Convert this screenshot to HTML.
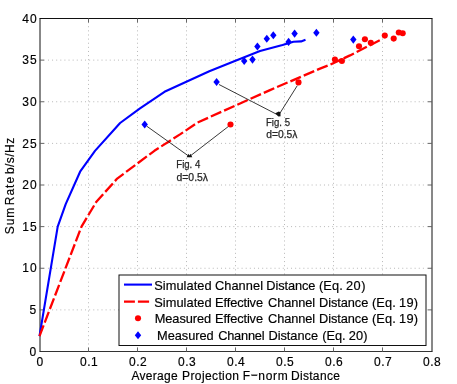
<!DOCTYPE html>
<html><head><meta charset="utf-8"><title>Chart</title>
<style>html,body{margin:0;padding:0;background:#fff;}body{width:457px;height:384px;overflow:hidden;position:relative;font-family:"Liberation Sans",sans-serif;}</style></head>
<body>
<svg width="457" height="384" viewBox="0 0 457 384" style="position:absolute;left:0;top:0">
<rect x="0" y="0" width="457" height="384" fill="#fff"/>
<g stroke="#b8b8b8" stroke-width="1" stroke-dasharray="1 3.12"><line x1="88.50" y1="18.0" x2="88.50" y2="351.5"/><line x1="137.50" y1="18.0" x2="137.50" y2="351.5"/><line x1="186.50" y1="18.0" x2="186.50" y2="351.5"/><line x1="235.50" y1="18.0" x2="235.50" y2="351.5"/><line x1="284.50" y1="18.0" x2="284.50" y2="351.5"/><line x1="333.50" y1="18.0" x2="333.50" y2="351.5"/><line x1="382.50" y1="18.0" x2="382.50" y2="351.5"/><line x1="39.7" y1="309.88" x2="432.0" y2="309.88"/><line x1="39.7" y1="268.25" x2="432.0" y2="268.25"/><line x1="39.7" y1="226.62" x2="432.0" y2="226.62"/><line x1="39.7" y1="185.00" x2="432.0" y2="185.00"/><line x1="39.7" y1="143.38" x2="432.0" y2="143.38"/><line x1="39.7" y1="101.75" x2="432.0" y2="101.75"/><line x1="39.7" y1="60.12" x2="432.0" y2="60.12"/></g>
<g stroke="#000" stroke-width="1" fill="none">
<line x1="39.5" y1="18.5" x2="432.5" y2="18.5" stroke="#111"/>
<line x1="39.5" y1="351.5" x2="432.5" y2="351.5" stroke="#333"/>
<line x1="40.0" y1="18.5" x2="40.0" y2="351.5" stroke="#111"/>
<line x1="432.0" y1="18.5" x2="432.0" y2="351.5" stroke="#111"/>
<line x1="88.50" y1="351.5" x2="88.50" y2="347.5" stroke="#666"/>
<line x1="88.50" y1="18.5" x2="88.50" y2="22.5" stroke="#666"/>
<line x1="137.50" y1="351.5" x2="137.50" y2="347.5" stroke="#666"/>
<line x1="137.50" y1="18.5" x2="137.50" y2="22.5" stroke="#666"/>
<line x1="186.50" y1="351.5" x2="186.50" y2="347.5" stroke="#666"/>
<line x1="186.50" y1="18.5" x2="186.50" y2="22.5" stroke="#666"/>
<line x1="235.50" y1="351.5" x2="235.50" y2="347.5" stroke="#666"/>
<line x1="235.50" y1="18.5" x2="235.50" y2="22.5" stroke="#666"/>
<line x1="284.50" y1="351.5" x2="284.50" y2="347.5" stroke="#666"/>
<line x1="284.50" y1="18.5" x2="284.50" y2="22.5" stroke="#666"/>
<line x1="333.50" y1="351.5" x2="333.50" y2="347.5" stroke="#666"/>
<line x1="333.50" y1="18.5" x2="333.50" y2="22.5" stroke="#666"/>
<line x1="382.50" y1="351.5" x2="382.50" y2="347.5" stroke="#666"/>
<line x1="382.50" y1="18.5" x2="382.50" y2="22.5" stroke="#666"/>
<line x1="40.0" y1="309.88" x2="44.0" y2="309.88" stroke="#666"/>
<line x1="432.0" y1="309.88" x2="428.0" y2="309.88" stroke="#666"/>
<line x1="40.0" y1="268.25" x2="44.0" y2="268.25" stroke="#666"/>
<line x1="432.0" y1="268.25" x2="428.0" y2="268.25" stroke="#666"/>
<line x1="40.0" y1="226.62" x2="44.0" y2="226.62" stroke="#666"/>
<line x1="432.0" y1="226.62" x2="428.0" y2="226.62" stroke="#666"/>
<line x1="40.0" y1="185.00" x2="44.0" y2="185.00" stroke="#666"/>
<line x1="432.0" y1="185.00" x2="428.0" y2="185.00" stroke="#666"/>
<line x1="40.0" y1="143.38" x2="44.0" y2="143.38" stroke="#666"/>
<line x1="432.0" y1="143.38" x2="428.0" y2="143.38" stroke="#666"/>
<line x1="40.0" y1="101.75" x2="44.0" y2="101.75" stroke="#666"/>
<line x1="432.0" y1="101.75" x2="428.0" y2="101.75" stroke="#666"/>
<line x1="40.0" y1="60.12" x2="44.0" y2="60.12" stroke="#666"/>
<line x1="432.0" y1="60.12" x2="428.0" y2="60.12" stroke="#666"/>
</g>
<polyline points="39.5,336.1 57.7,226.6 65.7,204.1 80.1,171.7 95.0,150.9 120.1,123.0 140.0,108.4 164.5,91.8 209.3,71.2 236.1,60.6 260.0,51.1 282.5,45.1 293.5,41.8 301.1,41.4 305.5,39.7" fill="none" stroke="#0000ff" stroke-width="2.1" stroke-linejoin="round"/>
<polyline points="39.5,336.1 81.5,226.6 96.4,201.7 117.2,178.6 154.4,150.8 180.0,134.4 197.4,122.6 270.0,90.1 320.0,68.6 330.0,64.7 350.0,55.4 382.2,39.0" fill="none" stroke="#ff0000" stroke-width="2.3" stroke-dasharray="11.4 3.1" stroke-linejoin="round"/>
<g stroke="#222" stroke-width="0.9" fill="none">
<line x1="146.5" y1="126" x2="189.4" y2="156.6"/><line x1="229" y1="126" x2="189.4" y2="156.6"/>
<line x1="219" y1="84.5" x2="278.6" y2="115.3"/><line x1="297.3" y1="85.6" x2="278.6" y2="115.3"/>
</g>
<path d="M186.6 157.2 L188.6 153.8 L189.4 155.4 L190.4 153.8 L192.3 157.2z" fill="#111"/>
<path d="M275.2 113.2 L278.8 111.6 L280.4 112.2 L280.6 116.2 L278.4 116.4z" fill="#111"/>
<path d="M141.5 124.5 l3.2 -4.05 l3.2 4.05 l-3.2 4.05z" fill="#0000ff"/>
<path d="M213.4 82.0 l3.2 -4.05 l3.2 4.05 l-3.2 4.05z" fill="#0000ff"/>
<path d="M241.0 61.0 l3.2 -4.05 l3.2 4.05 l-3.2 4.05z" fill="#0000ff"/>
<path d="M249.3 59.6 l3.2 -4.05 l3.2 4.05 l-3.2 4.05z" fill="#0000ff"/>
<path d="M254.2 46.5 l3.2 -4.05 l3.2 4.05 l-3.2 4.05z" fill="#0000ff"/>
<path d="M263.6 38.8 l3.2 -4.05 l3.2 4.05 l-3.2 4.05z" fill="#0000ff"/>
<path d="M270.1 35.3 l3.2 -4.05 l3.2 4.05 l-3.2 4.05z" fill="#0000ff"/>
<path d="M285.4 41.9 l3.2 -4.05 l3.2 4.05 l-3.2 4.05z" fill="#0000ff"/>
<path d="M291.4 33.6 l3.2 -4.05 l3.2 4.05 l-3.2 4.05z" fill="#0000ff"/>
<path d="M313.2 32.7 l3.2 -4.05 l3.2 4.05 l-3.2 4.05z" fill="#0000ff"/>
<path d="M350.1 39.6 l3.2 -4.05 l3.2 4.05 l-3.2 4.05z" fill="#0000ff"/>
<circle cx="230.5" cy="124.5" r="3.05" fill="#ff0000"/>
<circle cx="298.5" cy="82.4" r="3.05" fill="#ff0000"/>
<circle cx="334.9" cy="59.5" r="3.05" fill="#ff0000"/>
<circle cx="341.9" cy="61.0" r="3.05" fill="#ff0000"/>
<circle cx="359.0" cy="46.3" r="3.05" fill="#ff0000"/>
<circle cx="364.9" cy="39.3" r="3.05" fill="#ff0000"/>
<circle cx="370.8" cy="42.8" r="3.05" fill="#ff0000"/>
<circle cx="384.8" cy="35.6" r="3.05" fill="#ff0000"/>
<circle cx="393.7" cy="38.6" r="3.05" fill="#ff0000"/>
<circle cx="398.8" cy="32.5" r="3.05" fill="#ff0000"/>
<circle cx="402.7" cy="33.2" r="3.05" fill="#ff0000"/>
<g font-family="Liberation Sans, sans-serif" font-size="12px" fill="#000" stroke="#000" stroke-width="0.18" style="filter:grayscale(1)">
<text x="39.8" y="365.7" text-anchor="middle">0</text>
<text x="88.9" y="365.7" text-anchor="middle" textLength="17.7" lengthAdjust="spacing">0.1</text>
<text x="137.9" y="365.7" text-anchor="middle" textLength="17.7" lengthAdjust="spacing">0.2</text>
<text x="186.9" y="365.7" text-anchor="middle" textLength="17.7" lengthAdjust="spacing">0.3</text>
<text x="235.9" y="365.7" text-anchor="middle" textLength="17.7" lengthAdjust="spacing">0.4</text>
<text x="284.9" y="365.7" text-anchor="middle" textLength="17.7" lengthAdjust="spacing">0.5</text>
<text x="333.9" y="365.7" text-anchor="middle" textLength="17.7" lengthAdjust="spacing">0.6</text>
<text x="382.9" y="365.7" text-anchor="middle" textLength="17.7" lengthAdjust="spacing">0.7</text>
<text x="431.9" y="365.7" text-anchor="middle" textLength="17.7" lengthAdjust="spacing">0.8</text>
<text x="29.6" y="355.7">0</text>
<text x="29.6" y="314.1">5</text>
<text x="22.3" y="272.4" textLength="14.4" lengthAdjust="spacing">10</text>
<text x="22.3" y="230.8" textLength="14.4" lengthAdjust="spacing">15</text>
<text x="22.3" y="189.2" textLength="14.4" lengthAdjust="spacing">20</text>
<text x="22.3" y="147.6" textLength="14.4" lengthAdjust="spacing">25</text>
<text x="22.3" y="106.0" textLength="14.4" lengthAdjust="spacing">30</text>
<text x="22.3" y="64.3" textLength="14.4" lengthAdjust="spacing">35</text>
<text x="22.3" y="22.7" textLength="14.4" lengthAdjust="spacing">40</text>
<text x="131.4" y="379.5" textLength="46.4" lengthAdjust="spacing">Average</text>
<text x="182.1" y="379.5" textLength="56.8" lengthAdjust="spacing">Projection</text>
<text x="242.7" y="379.5" textLength="7.6" lengthAdjust="spacing">F</text>
<rect x="251.5" y="374.7" width="5.7" height="1.1" fill="#111"/>
<text x="258.2" y="379.5" textLength="29.6" lengthAdjust="spacing">norm</text>
<text x="290.9" y="379.5" textLength="49.0" lengthAdjust="spacing">Distance</text>
<g transform="translate(13.8,0) rotate(-90)">
<text x="-234.2" y="0.0" textLength="26.5" lengthAdjust="spacing">Sum</text>
<text x="-205.2" y="0.0" textLength="28.3" lengthAdjust="spacing">Rate</text>
<text x="-174.1" y="0.0" textLength="36.3" lengthAdjust="spacing">b/s/Hz</text>
</g>
</g>
<g font-family="Liberation Sans, sans-serif" font-size="10.3px" fill="#262626" stroke="#262626" stroke-width="0.25" style="filter:grayscale(1)">
<text x="176.3" y="167.7" textLength="24.0" lengthAdjust="spacingAndGlyphs">Fig. 4</text>
<text x="176.5" y="181.2" textLength="31.5" lengthAdjust="spacingAndGlyphs">d=0.5λ</text>
<text x="266.0" y="125.5" textLength="24.0" lengthAdjust="spacingAndGlyphs">Fig. 5</text>
<text x="266.2" y="138.4" textLength="31.2" lengthAdjust="spacingAndGlyphs">d=0.5λ</text>
</g>
<rect x="119" y="275" width="307" height="70.5" fill="#fff" stroke="#111" stroke-width="1"/>
<line x1="124" y1="284.6" x2="152" y2="284.6" stroke="#0000ff" stroke-width="2.1"/>
<line x1="124" y1="301.7" x2="152" y2="301.7" stroke="#ff0000" stroke-width="2.3" stroke-dasharray="10.9 3 11.2 10"/>
<circle cx="138.0" cy="318.2" r="3.05" fill="#ff0000"/>
<path d="M134.8 335.3 l3.2 -4.05 l3.2 4.05 l-3.2 4.05z" fill="#0000ff"/>
<g font-family="Liberation Sans, sans-serif" font-size="12.8px" fill="#000" stroke="#000" stroke-width="0.18" style="filter:grayscale(1)">
<text x="154.2" y="289.8" textLength="57.4" lengthAdjust="spacing">Simulated</text>
<text x="214.9" y="289.8" textLength="48.1" lengthAdjust="spacing">Channel</text>
<text x="266.3" y="289.8" textLength="49.1" lengthAdjust="spacing">Distance</text>
<text x="318.9" y="289.8" textLength="23.8" lengthAdjust="spacing">(Eq.</text>
<text x="346.0" y="289.8" textLength="19.4" lengthAdjust="spacing">20)</text>
<text x="154.2" y="306.8" textLength="57.4" lengthAdjust="spacing">Simulated</text>
<text x="215.1" y="306.8" textLength="47.9" lengthAdjust="spacing">Effective</text>
<text x="268.0" y="306.8" textLength="47.1" lengthAdjust="spacing">Channel</text>
<text x="319.1" y="306.8" textLength="49.2" lengthAdjust="spacing">Distance</text>
<text x="372.0" y="306.8" textLength="23.7" lengthAdjust="spacing">(Eq.</text>
<text x="399.1" y="306.8" textLength="18.9" lengthAdjust="spacing">19)</text>
<text x="154.7" y="323.3" textLength="56.5" lengthAdjust="spacing">Measured</text>
<text x="215.1" y="323.3" textLength="47.9" lengthAdjust="spacing">Effective</text>
<text x="268.0" y="323.3" textLength="47.1" lengthAdjust="spacing">Channel</text>
<text x="319.1" y="323.3" textLength="49.2" lengthAdjust="spacing">Distance</text>
<text x="372.0" y="323.3" textLength="23.7" lengthAdjust="spacing">(Eq.</text>
<text x="399.1" y="323.3" textLength="18.9" lengthAdjust="spacing">19)</text>
<text x="157.1" y="340.1" textLength="56.5" lengthAdjust="spacing">Measured</text>
<text x="218.2" y="340.1" textLength="46.3" lengthAdjust="spacing">Channel</text>
<text x="268.5" y="340.1" textLength="49.5" lengthAdjust="spacing">Distance</text>
<text x="322.2" y="340.1" textLength="23.3" lengthAdjust="spacing">(Eq.</text>
<text x="348.8" y="340.1" textLength="18.7" lengthAdjust="spacing">20)</text>
</g>
</svg>
</body></html>
